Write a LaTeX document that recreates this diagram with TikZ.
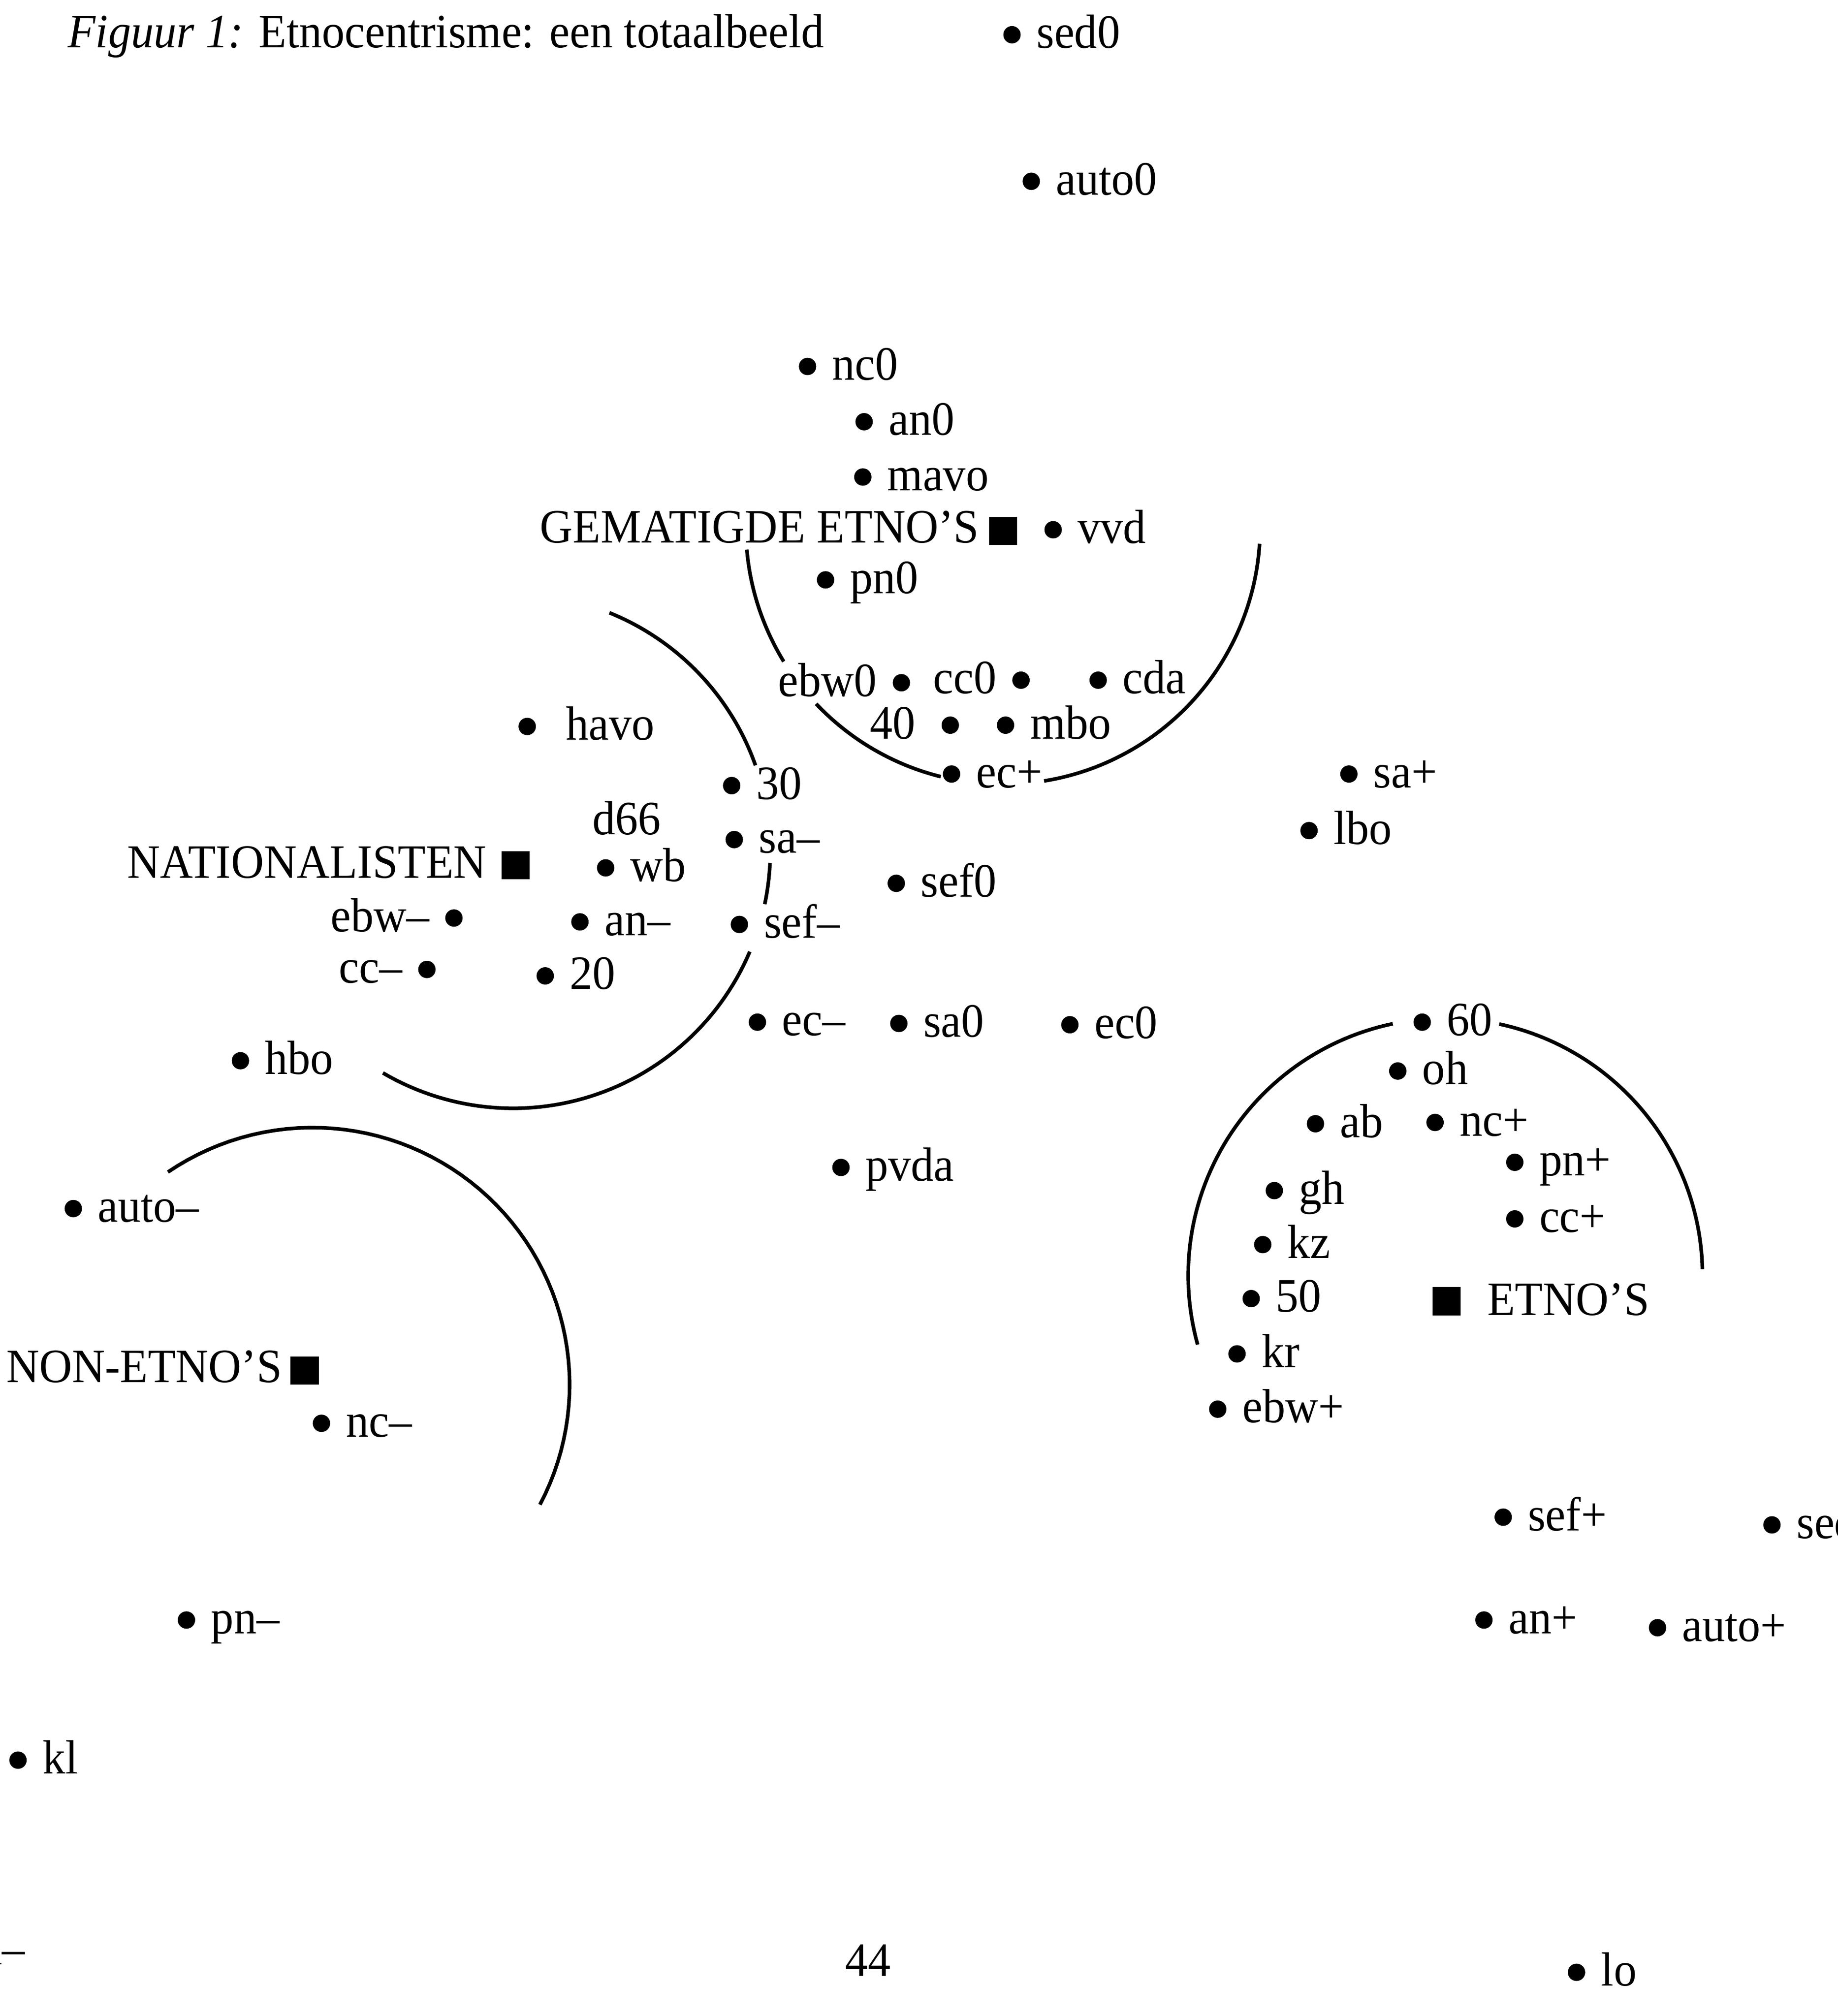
\documentclass[tikz,border=0pt]{standalone}
\usepackage{fontspec}
\setmainfont{Liberation Serif}[FakeStretch=0.95]
\usetikzlibrary{positioning}

\tikzset{
  punt/.style={circle, fill=black, inner sep=0pt, minimum size=0.135cm},
  centrum/.style={rectangle, fill=black, inner sep=0pt, minimum size=0.22cm},
  rechts/.style={anchor=base west, inner sep=0pt, xshift=0.11cm, yshift=-0.105cm},
  links/.style={anchor=base east, inner sep=0pt, xshift=-0.11cm, yshift=-0.105cm},
  tekst/.style={inner sep=0pt},
  cirkel/.style={line width=0.8pt, samples=60}
}

\begin{document}
\begin{tikzpicture}[x=0.01cm, y=-0.01cm, font=\fontsize{10.6pt}{12pt}\selectfont]
    \useasboundingbox (0,0) rectangle (1429,1568);
    \clip (0,0) rectangle (1429,1568);

    % Title and page number
    \node[tekst, anchor=base west] (titel) at (52,37) {\textit{Figuur 1:} Etnocentrisme: een totaalbeeld};
    \node[tekst, anchor=base] (pagina) at (675,1537) {44};

    % Group centres
    \node[centrum] (gematigd) at (780,413) {};
    \node[tekst, anchor=base east] (gemtekst) at (762,422) {GEMATIGDE ETNO'S};
    \node[centrum] (nationalist) at (401,673) {};
    \node[tekst, anchor=base east] (nattekst) at (379,683) {NATIONALISTEN};
    \node[centrum] (nonetno) at (237,1066) {};
    \node[tekst, anchor=base east] (nontekst) at (220,1075) {NON-ETNO'S};
    \node[centrum] (etno) at (1125,1012) {};
    \node[tekst, anchor=base west] (etnotekst) at (1156,1023) {ETNO'S};

    % Circles round the groups
    \draw[cirkel] plot[domain=-175:-148.5] ({780+200*cos(\x)}, {410-200*sin(\x)});
    \draw[cirkel] plot[domain=-136.6:-104] ({780+200*cos(\x)}, {410-200*sin(\x)});
    \draw[cirkel] plot[domain=-80.8:-3.7] ({780+200*cos(\x)}, {410-200*sin(\x)});

    \draw[cirkel] plot[domain=19.5:68] ({399+200*cos(\x)}, {662-200*sin(\x)});
    \draw[cirkel] plot[domain=-11.9:-2.6] ({399+200*cos(\x)}, {662-200*sin(\x)});
    \draw[cirkel] plot[domain=-120.4:-23] ({399+200*cos(\x)}, {662-200*sin(\x)});

    \draw[cirkel] plot[domain=-27.8:124.2] ({243+200*cos(\x)}, {1077-200*sin(\x)});

    \draw[cirkel] plot[domain=101.8:195.6] ({1124+200*cos(\x)}, {992-200*sin(\x)});
    \draw[cirkel] plot[domain=1.4:77.9] ({1124+200*cos(\x)}, {992-200*sin(\x)});

    % Variables
    \node[punt, label={[rechts]right:sed0}] (sed0) at (787,27) {};
    \node[punt, label={[rechts]right:auto0}] (auto0) at (802,141) {};
    \node[punt, label={[rechts]right:nc0}] (nc0) at (628,285) {};
    \node[punt, label={[rechts]right:an0}] (an0) at (672,328) {};
    \node[punt, label={[rechts]right:mavo}] (mavo) at (671,371) {};
    \node[punt, label={[rechts]right:vvd}] (vvd) at (819,412) {};
    \node[punt, label={[rechts]right:pn0}] (pn0) at (642,451) {};
    \node[punt, label={[links]left:ebw0}] (ebw0) at (701,531) {};
    \node[punt, label={[links]left:cc0}] (cc0) at (794,529) {};
    \node[punt, label={[rechts]right:cda}] (cda) at (854,529) {};
    \node[punt, label={[links, xshift=-0.08cm]left:40}] (veertig) at (739,564) {};
    \node[punt, label={[rechts]right:mbo}] (mbo) at (782,564) {};
    \node[punt, label={[rechts]right:ec+}] (ecplus) at (740,602) {};
    \node[punt, label={[rechts]right:sa+}] (saplus) at (1049,602) {};
    \node[punt, label={[rechts]right:lbo}] (lbo) at (1018,646) {};
    \node[punt, label={[rechts, xshift=0.11cm]right:havo}] (havo) at (410,565) {};
    \node[punt, label={[rechts]right:30}] (dertig) at (569,611) {};
    \node[tekst, anchor=base west] (d66) at (460,649) {d66};
    \node[punt, label={[rechts]right:sa--}] (samin) at (571,653) {};
    \node[punt, label={[rechts]right:wb}] (wb) at (471,675) {};
    \node[punt, label={[rechts]right:sef0}] (sef0) at (697,687) {};
    \node[punt, label={[links]left:ebw--}] (ebwmin) at (353,714) {};
    \node[punt, label={[rechts]right:an--}] (anmin) at (451,717) {};
    \node[punt, label={[rechts]right:sef--}] (sefmin) at (575,719) {};
    \node[punt, label={[links]left:cc--}] (ccmin) at (332,754) {};
    \node[punt, label={[rechts]right:20}] (twintig) at (424,759) {};
    \node[punt, label={[rechts]right:ec--}] (ecmin) at (589,795) {};
    \node[punt, label={[rechts]right:sa0}] (sa0) at (699,796) {};
    \node[punt, label={[rechts]right:ec0}] (ec0) at (832,797) {};
    \node[punt, label={[rechts]right:hbo}] (hbo) at (187,825) {};
    \node[punt, label={[rechts]right:60}] (zestig) at (1106,795) {};
    \node[punt, label={[rechts]right:oh}] (oh) at (1087,833) {};
    \node[punt, label={[rechts]right:ab}] (ab) at (1023,874) {};
    \node[punt, label={[rechts]right:nc+}] (ncplus) at (1116,873) {};
    \node[punt, label={[rechts]right:pvda}] (pvda) at (654,908) {};
    \node[punt, label={[rechts]right:pn+}] (pnplus) at (1178,904) {};
    \node[punt, label={[rechts]right:gh}] (gh) at (991,926) {};
    \node[punt, label={[rechts]right:cc+}] (ccplus) at (1178,948) {};
    \node[punt, label={[rechts]right:auto--}] (automin) at (57,940) {};
    \node[punt, label={[rechts]right:kz}] (kz) at (982,968) {};
    \node[punt, label={[rechts]right:50}] (vijftig) at (973,1010) {};
    \node[punt, label={[rechts]right:kr}] (kr) at (962,1053) {};
    \node[punt, label={[rechts]right:ebw+}] (ebwplus) at (947,1096) {};
    \node[punt, label={[rechts]right:nc--}] (ncmin) at (250,1107) {};
    \node[punt, label={[rechts]right:sef+}] (sefplus) at (1169,1180) {};
    \node[punt, label={[rechts]right:sed+}] (sedplus) at (1378,1186) {};
    \node[punt, label={[rechts]right:pn--}] (pnmin) at (145,1260) {};
    \node[punt, label={[rechts]right:an+}] (anplus) at (1154,1260) {};
    \node[punt, label={[rechts]right:auto+}] (autoplus) at (1289,1266) {};
    \node[punt, label={[rechts]right:kl}] (kl) at (14,1369) {};
    \node[punt, label={[rechts]right:lo}] (lo) at (1226,1534) {};
    \node[tekst, anchor=base east] (sedmin) at (20,1528) {sed--};
\end{tikzpicture}
\end{document}
